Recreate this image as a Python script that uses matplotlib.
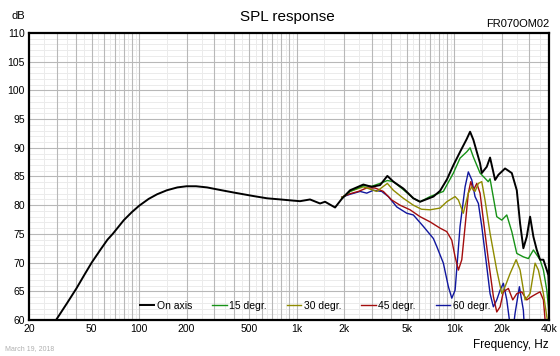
#!/usr/bin/env python

import numpy as np
import matplotlib.pyplot as plt
from matplotlib.ticker import FixedLocator, NullFormatter

plt.rcParams['font.family'] = ['Liberation Sans', 'DejaVu Sans']

# SPL response (Hz, dB)
on_axis_f = [28, 29.7, 35, 40, 45, 50, 57, 63, 68, 80, 90, 100, 115, 130, 150,
             175, 200, 230, 270, 320, 400, 530, 650, 790, 950,
             1051, 1216, 1408, 1515, 1754, 1934, 2184, 2652, 2998, 3386, 3766,
             4112, 4760, 5508, 6074, 7380, 8140, 9000, 9900, 11000, 12000,
             12620, 13240, 14600, 14970, 16110, 16900, 18190, 19100, 21040,
             23220, 24980, 26220, 27500, 28900, 30340, 31850, 33460, 35100,
             36860, 38730, 39650, 40000]
on_axis_db = [59.0, 60.0, 63.0, 65.5, 67.9, 70.0, 72.3, 74.0, 75.0, 77.4, 78.8,
              79.9, 81.1, 81.9, 82.6, 83.1, 83.3, 83.3, 83.1, 82.7, 82.2, 81.6,
              81.2, 81.0, 80.8,
              80.7, 81.0, 80.3, 80.6, 79.6, 81.1, 82.6, 83.6,
              83.2, 83.5, 85.1, 84.1, 82.9, 81.2, 80.6, 81.5, 82.5, 84.5, 87.0,
              89.5, 91.5, 92.8, 91.4, 87.3, 85.6, 86.7, 88.3, 84.4, 85.3, 86.4,
              85.6, 82.6, 76.8, 72.5, 74.5, 78.0, 74.5, 72.2, 70.5, 70.5, 68.7,
              67.8, 65.5]

deg15_f = [1934, 2184, 2652, 2998, 3386, 3766, 4112, 4760, 5508, 6074, 7030,
           8540, 9886, 10900, 12020, 12620, 13240, 14600, 16450, 16900, 18640,
           20060, 21580, 23220, 24980, 27500, 29580, 31850, 35100, 36860,
           38730, 39650, 40000]
deg15_db = [81.2, 82.4, 83.4, 83.3, 83.8, 84.3, 84.1, 82.7, 81.2, 80.6, 81.5,
            82.4, 85.6, 88.2, 89.3, 90.0, 88.4, 85.6, 84.1, 84.6, 78.0, 77.4,
            78.3, 75.4, 71.6, 71.0, 70.7, 72.2, 70.5, 68.7, 65.2, 62.3, 60.5]

deg30_f = [1934, 2184, 2652, 3226, 3766, 4112, 4760, 5508, 6200, 7030, 8140,
           8974, 10140, 10640, 11430, 12300, 12940, 13570, 14250, 14970, 15700,
           16900, 18640, 20060, 21040, 22650, 24730, 26220, 28200, 30340,
           32640, 34260, 36860, 38730, 40000]
deg30_db = [81.3, 82.4, 83.2, 82.4, 83.8, 82.6, 81.2, 80.0, 79.3, 79.2, 79.5,
            80.6, 81.5, 80.9, 78.6, 82.1, 83.2, 82.4, 83.8, 84.1, 80.9, 75.1,
            68.7, 64.6, 65.8, 68.1, 70.5, 68.7, 63.5, 64.6, 69.9, 68.7, 64.6,
            60.6, 58.0]

deg45_f = [1934, 2184, 2466, 2787, 3146, 3552, 4018, 4535, 5248, 6074, 7030,
           8140, 8974, 9660, 10140, 10640, 11180, 11730, 12300, 12750, 13240,
           13920, 14600, 15330, 16480, 17740, 18640, 19570, 20530, 22090,
           23560, 24980, 26870, 28900, 31100, 33460, 35100, 36860, 37780, 38500]
deg45_db = [81.4, 82.0, 82.4, 83.0, 83.0, 82.4, 80.9, 80.0, 79.2, 78.0, 77.1,
            76.0, 75.4, 73.9, 71.0, 68.7, 70.5, 76.3, 82.1, 84.1, 82.6, 83.8,
            82.1, 77.4, 70.5, 64.1, 61.4, 62.3, 64.9, 65.5, 63.5, 64.6, 64.9,
            63.5, 64.1, 64.6, 64.9, 63.5, 60.0, 57.0]

deg60_f = [1934, 2184, 2528, 2787, 3070, 3470, 3822, 4320, 5000, 5508, 6376,
           7380, 7756, 8540, 9190, 9660, 10140, 10900, 11730, 12300, 12940,
           13570, 14250, 14970, 16110, 16900, 17740, 18640, 19570, 20530,
           21580, 22420, 23300, 24370, 25950, 27500, 28000]
deg60_db = [81.4, 81.9, 82.4, 82.1, 82.6, 82.4, 81.5, 79.7, 78.6, 78.3, 76.3,
            74.2, 72.8, 69.9, 65.8, 63.8, 65.2, 76.3, 83.2, 85.8, 84.4, 81.5,
            80.3, 76.3, 69.3, 64.6, 62.3, 63.5, 65.2, 66.4, 63.5, 60.0, 57.0,
            61.2, 65.8, 61.7, 58.0]

series = [("On axis", on_axis_f, on_axis_db, "black", 1.4),
          ("15 degr.", deg15_f, deg15_db, "#179217", 1.0),
          ("30 degr.", deg30_f, deg30_db, "#8f8b00", 1.0),
          ("45 degr.", deg45_f, deg45_db, "#a30d0d", 1.0),
          ("60 degr.", deg60_f, deg60_db, "#10169e", 1.0)]

xtick_vals = [20, 50, 100, 200, 500, 1000, 2000, 5000, 10000, 20000, 40000]
xtick_labels = ["20", "50", "100", "200", "500", "1k", "2k", "5k", "10k", "20k", "40k"]

fig = plt.figure(figsize=(5.6, 3.56), dpi=100)
ax = fig.add_axes([29 / 560, 1 - 320 / 356, 520 / 560, 287 / 356])
ax.set_xscale('log')
ax.set_xlim(20, 40000)
ax.set_ylim(60, 110)

# grid: 1..9 per decade darker, half steps lighter
major_x = [k * 10 ** n for n in range(1, 5) for k in range(1, 10)]
half_x = [(k + 0.5) * 10 ** n for n in range(1, 5) for k in range(1, 10)]
for v in half_x:
    if 20 < v < 40000:
        ax.axvline(v, color='#ebebeb', lw=0.7, zorder=0)
for v in major_x:
    if 20 < v < 40000:
        ax.axvline(v, color='#b8b8b8', lw=0.8, zorder=0.5)
for v in range(61, 110):
    if v % 5:
        ax.axhline(v, color='#ebebeb', lw=0.7, zorder=0)
for v in range(65, 110, 5):
    ax.axhline(v, color='#b8b8b8', lw=0.8, zorder=0.5)

lines = []
for name, f, db, col, lw in series[::-1]:
    ln, = ax.plot(f, db, color=col, lw=lw, label=name, zorder=2, solid_joinstyle='round')
    lines.append(ln)
lines = lines[::-1]

ax.xaxis.set_major_locator(FixedLocator(xtick_vals))
ax.set_xticklabels(xtick_labels)
ax.xaxis.set_minor_formatter(NullFormatter())
ax.xaxis.set_minor_locator(FixedLocator([]))
ax.set_yticks(range(60, 111, 5))
ax.tick_params(axis='both', length=0, labelsize=7.5, pad=3)
for s in ax.spines.values():
    s.set_linewidth(1.6)
    s.set_zorder(3)

leg = ax.legend(lines, [s[0] for s in series], ncol=5, loc='center',
                bbox_to_anchor=(0.55, 0.05), frameon=False, fontsize=7.5,
                handlelength=1.4, handletextpad=0.25, columnspacing=1.9,
                borderpad=0)
leg.set_zorder(1.5)

fig.text(287 / 560, 1 - 17 / 356, "SPL response", ha='center', va='center', fontsize=11)
fig.text(11 / 560, 1 - 16 / 356, "dB", ha='left', va='center', fontsize=8)
fig.text(549 / 560, 1 - 24 / 356, "FR070OM02", ha='right', va='center', fontsize=8)
fig.text(549 / 560, 1 - 345 / 356, "Frequency, Hz", ha='right', va='center', fontsize=8.5)
fig.text(5 / 560, 1 - 349 / 356, "March 19, 2018", ha='left', va='center',
         fontsize=5, color='#b0b0b0')

fig.savefig('out.png', dpi=100)
